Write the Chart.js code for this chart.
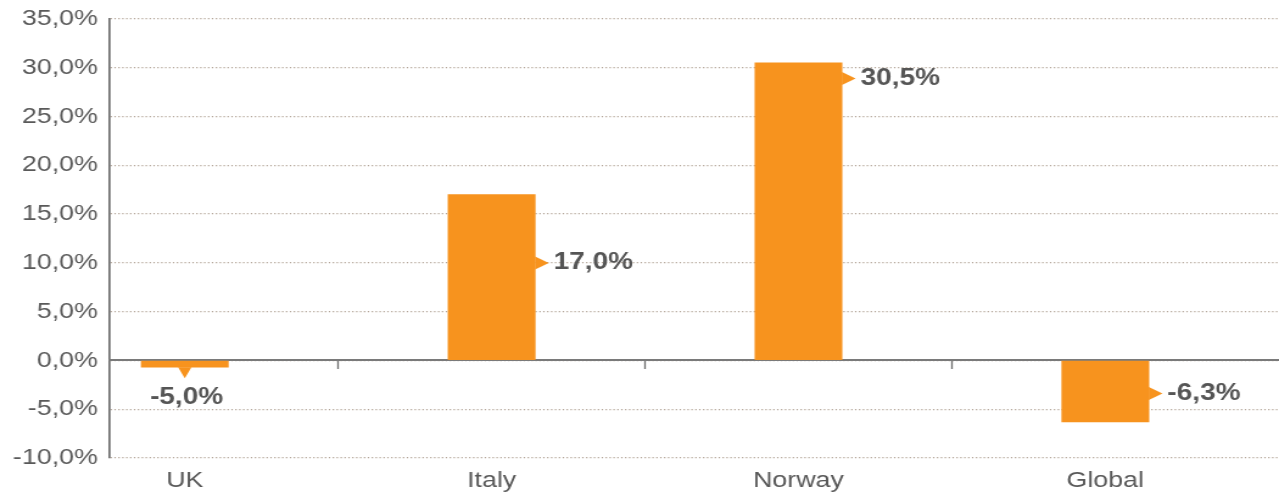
<!DOCTYPE html>
<html>
<head>
<meta charset="utf-8">
<script src="https://cdn.jsdelivr.net/npm/chart.js@4.4.1/dist/chart.umd.min.js"></script>
<style>
  html, body { margin: 0; padding: 0; background: #ffffff; overflow: hidden; }
  #c { display: block; }
</style>
</head>
<body>
<canvas id="c" width="1050" height="494" style="width:1279px;height:494px"></canvas>
<script>
// ---- data ----
const categories = ['UK', 'Italy', 'Norway', 'Global'];
const values = [-0.7, 17.0, 30.5, -6.3];
const valueLabels = ['-5,0%', '17,0%', '30,5%', '-6,3%'];
const yTickValues = [-10, -5, 0, 5, 10, 15, 20, 25, 30, 35];

const FONT = "'Liberation Sans', Arial, Helvetica, sans-serif";
const TEXT = '#595959';
const LABEL = '#555555';
const ORANGE = '#F7931E';
const X_MIN = -0.2437, X_MAX = 3.566;

const calloutPlugin = {
  id: 'callouts',
  afterDatasetsDraw(chart, args, opts) {
    const ctx = chart.ctx;
    const meta = chart.getDatasetMeta(0);
    const yScale = chart.scales.y;
    ctx.save();
    ctx.font = 'bold 23px ' + FONT;
    meta.data.forEach((el, i) => {
      const side = opts.side[i];
      const props = el.getProps(['x', 'y', 'base', 'width'], true);
      ctx.fillStyle = ORANGE;
      if (side === 'below') {
        const bottom = Math.max(props.y, props.base);
        ctx.beginPath();
        ctx.moveTo(props.x - 5.5, bottom);
        ctx.lineTo(props.x + 5.5, bottom);
        ctx.lineTo(props.x, bottom + 11);
        ctx.closePath();
        ctx.fill();
        ctx.fillStyle = LABEL;
        ctx.textAlign = 'center';
        ctx.textBaseline = 'middle';
        ctx.fillText(valueLabels[i], props.x + 1.5, bottom + 30);
      } else {
        const ya = yScale.getPixelForValue(opts.at[i]);
        const xr = props.x + props.width / 2;
        ctx.beginPath();
        ctx.moveTo(xr, ya - 6.5);
        ctx.lineTo(xr, ya + 6.5);
        ctx.lineTo(xr + 11.2, ya);
        ctx.closePath();
        ctx.fill();
        ctx.fillStyle = LABEL;
        ctx.textAlign = 'left';
        ctx.textBaseline = 'middle';
        ctx.fillText(valueLabels[i], xr + 11.2 + 4, ya);
      }
    });
    ctx.restore();
  }
};

new Chart(document.getElementById('c'), {
  type: 'bar',
  data: {
    datasets: [{
      data: values.map((v, i) => ({ x: i, y: v })),
      backgroundColor: ORANGE,
      borderWidth: 0,
      barThickness: 71.4,
      xAxisID: 'x',
      yAxisID: 'y'
    }]
  },
  options: {
    responsive: false,
    devicePixelRatio: 1,
    animation: false,
    layout: { padding: { top: 19, right: 0, bottom: 0, left: 0 } },
    plugins: {
      legend: { display: false },
      tooltip: { enabled: false },
      callouts: {
        side: ['below', 'right', 'right', 'right'],
        at: [null, 10, 28.9, -3.4]
      }
    },
    scales: {
      y: {
        type: 'linear',
        position: 'left',
        min: -10,
        max: 35,
        afterBuildTicks: s => { s.ticks = yTickValues.map(v => ({ value: v })); },
        afterFit: s => { s.width = 90.3; s.paddingTop = 0; s.paddingBottom = 0; },
        ticks: {
          padding: 10,
          color: TEXT,
          font: { family: FONT, size: 22 },
          callback: v => v.toFixed(1).replace('.', ',') + '%'
        },
        grid: { color: '#b3a598', lineWidth: 1.3, drawTicks: false },
        border: { display: true, color: '#6e6e6e', width: 1.7, dash: [1.2, 2] }
      },
      x: {
        type: 'linear',
        position: 'bottom',
        min: X_MIN,
        max: X_MAX,
        offset: false,
        afterBuildTicks: s => { s.ticks = categories.map((c, i) => ({ value: i })); },
        afterFit: s => { s.height = 36; s.paddingLeft = 0; s.paddingRight = 0; },
        ticks: {
          padding: 10,
          maxRotation: 0,
          autoSkip: false,
          color: TEXT,
          font: { family: FONT, size: 22 },
          callback: v => categories[v]
        },
        grid: { display: false, drawTicks: false, offset: false },
        border: { display: false }
      },
      x0: {
        type: 'linear',
        axis: 'x',
        position: { y: 0 },
        min: X_MIN,
        max: X_MAX,
        offset: false,
        afterBuildTicks: s => { s.ticks = [0.5, 1.5, 2.5].map(v => ({ value: v })); },
        afterFit: s => { s.paddingLeft = 0; s.paddingRight = 0; },
        ticks: { display: false },
        grid: { display: true, drawOnChartArea: false, drawTicks: true, tickLength: 8, tickColor: '#6e6e6e', tickWidth: 1.3, offset: false },
        border: { display: true, color: '#7a7a7a', width: 2 }
      }
    }
  },
  plugins: [calloutPlugin]
});
</script>
</body>
</html>
